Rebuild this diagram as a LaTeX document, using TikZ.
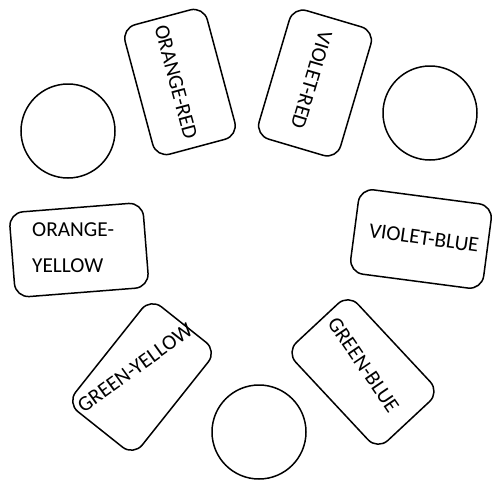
\documentclass[tikz,border=0pt]{standalone}
\usepackage{fontspec}
\setmainfont{Carlito}
\begin{document}
\begin{tikzpicture}[x=1pt,y=-1pt,
  ring/.style={draw, line width=1.5pt, circle, minimum size=94pt, inner sep=0pt},
  card/.style={draw, line width=1.5pt, rounded corners=14pt, minimum width=134pt, minimum height=85pt, inner sep=0pt},
  word/.style={inner sep=0pt, font=\fontsize{21.3}{36}\selectfont}]
\useasboundingbox (0,0) rectangle (493,483);
% circles
\node[ring] (c1) at (68,131) {};
\node[ring] (c2) at (430,113) {};
\node[ring] (c3) at (259,432) {};
% cards
\node[card, rotate=-75] (or) at (180,82) {};
\node[card, rotate=-106.5] (vr) at (315,83) {};
\node[card, rotate=4.5] (oy) at (79,250) {};
\node[card, rotate=-7.5] (vb) at (421,239) {};
\node[card, rotate=51.5] (gy) at (142,377) {};
\node[card, rotate=-47] (gb) at (363,372) {};
% texts
\node[word, rotate=-75] (tor) at (176,82) {ORANGE-RED};
\node[word, rotate=-106.5] (tvr) at (311.5,80) {VIOLET-RED};
\node[word, align=left, anchor=base west] (toy) at (32,272) {ORANGE-\\YELLOW};
\node[word, rotate=-8] (tvb) at (424,238) {VIOLET-BLUE};
\node[word, rotate=35.8] (tgy) at (135,368) {GREEN-YELLOW};
\node[word, rotate=-55.8] (tgb) at (363.5,365) {GREEN-BLUE};
\end{tikzpicture}
\end{document}
